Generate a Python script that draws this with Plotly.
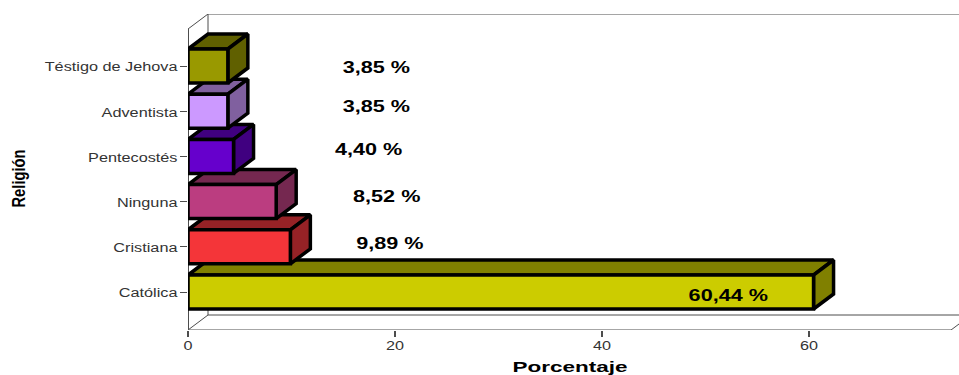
import plotly.graph_objects as go

categories = ["Católica", "Cristiana", "Ninguna", "Pentecostés", "Adventista", "Téstigo de Jehova"]
percentages = [60.44, 9.89, 8.52, 4.40, 3.85, 3.85]
value_labels = ["60,44 %", "9,89 %", "8,52 %", "4,40 %", "3,85 %", "3,85 %"]
x_ticks = [0, 20, 40, 60]

# styling
front_colors = ["#CCCC00", "#F43539", "#BB3D80", "#6600CC", "#CC99FF", "#999900"]
shade_colors = ["#808000", "#962226", "#752850", "#400080", "#80609F", "#606000"]
label_x = [52.2, 19.5, 19.2, 17.45, 18.2, 18.2]
label_dy = [-0.12, 0.03, 0.07, 0.11, 0.07, -0.06]

PX_X = 10.35
PX_Y = 45.2
DX = 20 / PX_X
DY = 15 / PX_Y
HALF = 17 / PX_Y
Y_MIN = -38 / PX_Y
Y_MAX = 278 / PX_Y
X_END = 763 / PX_X
X_MAX = 771 / PX_X

fig = go.Figure()
GRAY = "#4d4d4d"


def wall(xs, ys, color=GRAY, width=1):
    fig.add_trace(go.Scatter(x=xs, y=ys, mode="lines", line=dict(color=color, width=width),
                             hoverinfo="skip", showlegend=False, cliponaxis=False))


# walls and floor
wall([DX, X_MAX + DX], [Y_MAX, Y_MAX])
wall([DX, DX], [Y_MIN + DY, Y_MAX])
wall([DX, X_MAX + DX], [Y_MIN + DY, Y_MIN + DY])
wall([0, DX], [Y_MIN, Y_MIN + DY])
wall([0, DX], [Y_MAX - DY, Y_MAX])
wall([0, X_END, X_END + DX], [Y_MIN, Y_MIN, Y_MIN + DY])
wall([0, 0], [Y_MIN, Y_MAX - DY], width=2)

# bars, front row first so that upper rows overlap
for i, (name, v) in enumerate(zip(categories, percentages)):
    bot, top = i - HALF, i + HALF
    faces = [
        ([0, v, v + DX, DX, 0], [top, top, top + DY, top + DY, top], shade_colors[i]),
        ([v, v + DX, v + DX, v, v], [bot, bot + DY, top + DY, top, bot], shade_colors[i]),
        ([0, v, v, 0, 0], [bot, bot, top, top, bot], front_colors[i]),
    ]
    for xs, ys, col in faces:
        fig.add_trace(go.Scatter(x=xs, y=ys, mode="lines", fill="toself", fillcolor=col,
                                 line=dict(color="black", width=3.5), name=name,
                                 hoverinfo="skip", showlegend=False, cliponaxis=False))

# value labels
fig.add_trace(go.Scatter(x=label_x, y=[i + d for i, d in enumerate(label_dy)], mode="text",
                         text=value_labels, textposition="middle center",
                         textfont=dict(family="Liberation Sans", size=16, color="black", weight="bold"),
                         hoverinfo="skip", showlegend=False))

fig.update_layout(
    width=959, height=375,
    margin=dict(l=188, r=0, t=14, b=45),
    paper_bgcolor="white", plot_bgcolor="white",
    font=dict(family="Liberation Sans", color="#333333"),
    xaxis=dict(range=[0, X_MAX], showgrid=False, zeroline=False, showline=False,
               tickmode="array", tickvals=x_ticks, ticktext=[str(t) for t in x_ticks],
               ticks="outside", ticklen=6, tickcolor=GRAY, tickwidth=2,
               tickfont=dict(family="Liberation Sans", size=12, color="#333333")),
    yaxis=dict(range=[Y_MIN, Y_MAX], showgrid=False, zeroline=False, showline=False,
               tickmode="array", tickvals=list(range(len(categories))), ticktext=categories,
               ticks="outside", ticklen=7, tickcolor=GRAY, tickwidth=1,
               tickfont=dict(family="Liberation Sans", size=12.5, color="#333333")),
    annotations=[
        dict(text="Porcentaje", xref="paper", yref="paper", x=(569.5 - 188) / 771, y=(330 - 366.5) / 316,
             xanchor="center", yanchor="middle", showarrow=False,
             font=dict(family="Liberation Sans", size=14.5, color="black", weight="bold")),
        dict(text="Religión", xref="paper", yref="paper", x=(19 - 188) / 771, y=(330 - 179) / 316,
             xanchor="center", yanchor="middle", showarrow=False, textangle=-90,
             font=dict(family="Liberation Sans", size=18, color="black", weight="bold")),
    ],
)

# The reference's text is horizontally stretched: widen the real text glyphs.
post = """
document.body.style.margin='0';document.body.style.overflow='hidden';
function stretch(sel, f){
  document.querySelectorAll(sel).forEach(function(t){
    var w = t.getComputedTextLength();
    t.setAttribute('textLength', w * f);
    t.setAttribute('lengthAdjust', 'spacingAndGlyphs');
  });
}
stretch('.ytick text', 1.3);
stretch('.xtick text', 1.35);
stretch('.textpoint text', 1.35);
document.querySelectorAll('.ytick text').forEach(function(t){
  t.setAttribute('y', parseFloat(t.getAttribute('y')) + 1);
});
document.querySelectorAll('.xtick text').forEach(function(t){
  t.setAttribute('y', parseFloat(t.getAttribute('y')) - 1);
});
document.querySelectorAll('.annotation-text').forEach(function(t){
  var isX = t.textContent === 'Porcentaje';
  t.setAttribute('textLength', isX ? 115 : 58);
  t.setAttribute('lengthAdjust', 'spacingAndGlyphs');
});
"""
fig.write_html("out.html", config={"displayModeBar": False}, post_script=post)
